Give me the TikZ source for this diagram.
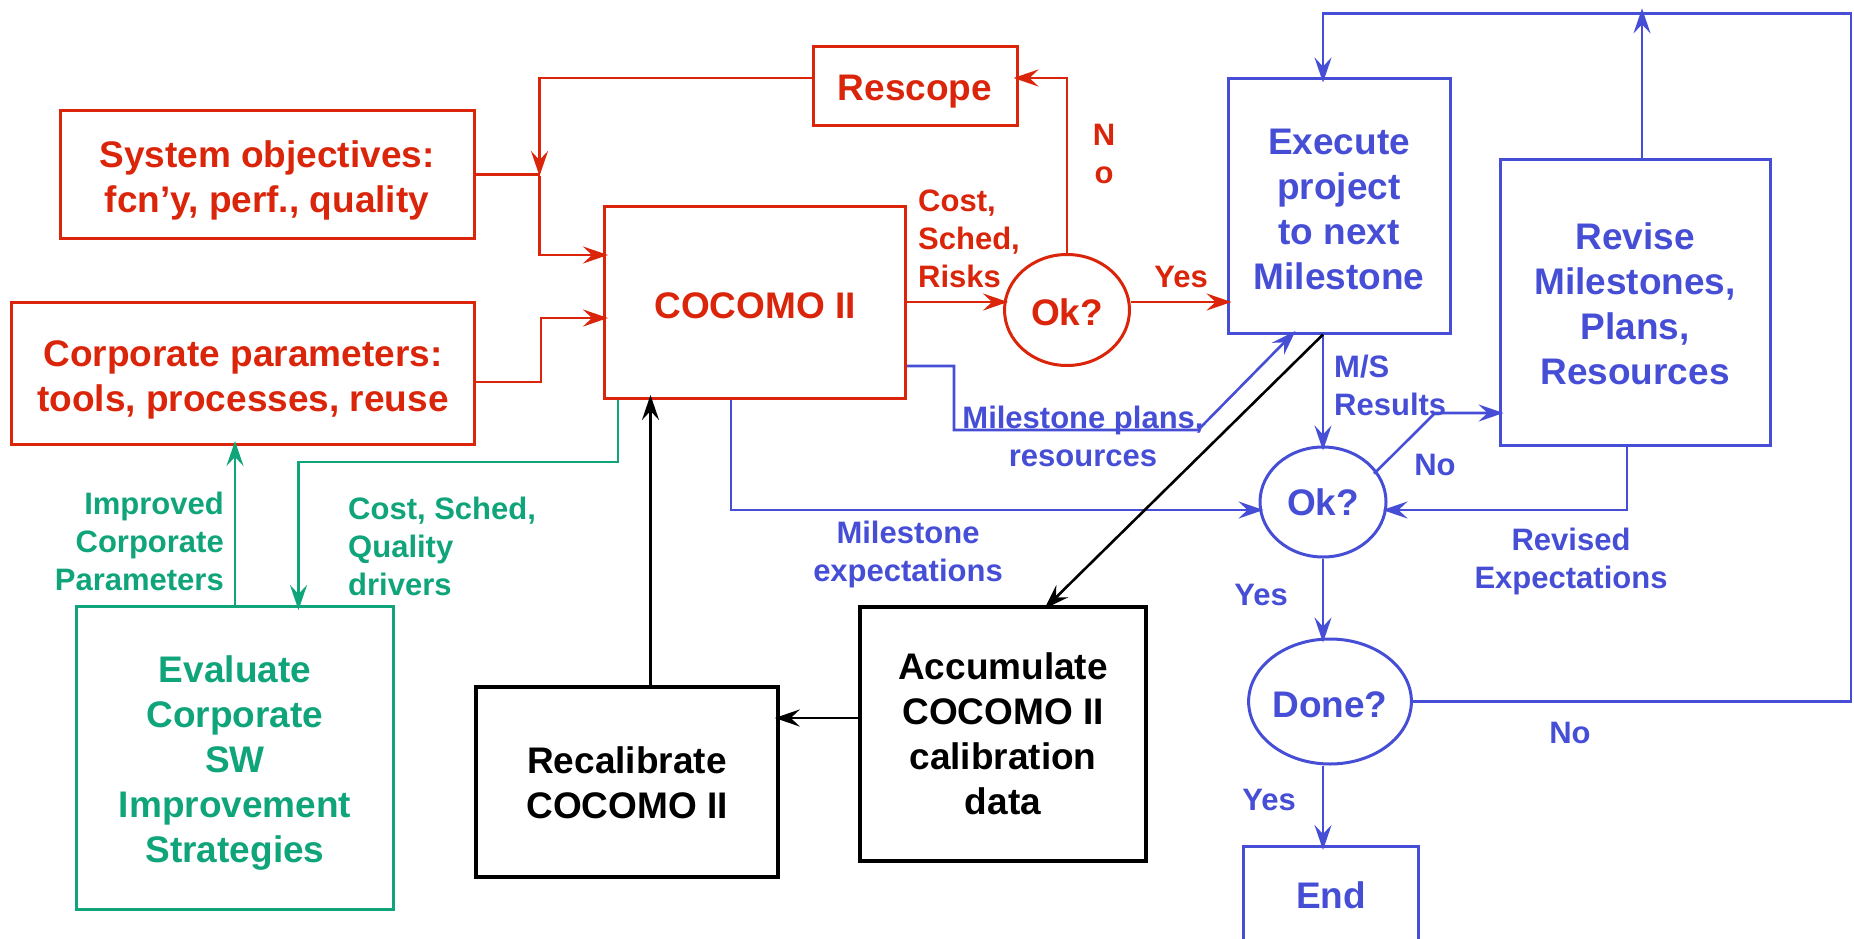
\documentclass[tikz,border=0pt]{standalone}
\usepackage{fontspec}
\setmainfont{Liberation Sans}
\usetikzlibrary{arrows.meta,shapes.geometric}
\definecolor{cred}{RGB}{218,37,10}
\definecolor{cblue}{RGB}{70,78,214}
\definecolor{cgreen}{RGB}{16,164,122}
\newcommand\boxfont{\fontsize{37}{45}\selectfont\bfseries}
\newcommand\tagfont{\fontsize{31}{38}\selectfont\bfseries}
% strut for the first line of a box text: a taller first line moves the block down
\newcommand\topstrut[1]{\rule{0pt}{#1pt}}
\tikzset{
  box/.style={draw, rectangle, line width=3pt, inner sep=0pt, align=center, font=\boxfont},
  oval/.style={draw, ellipse, line width=3pt, inner sep=0pt, font=\boxfont},
  lbl/.style={inner sep=0pt, font=\tagfont},
  tip/.style={-{Stealth[length=25pt,width=17pt,inset=9pt]}, shorten >=-5pt},
  conn/.style={line width=2.6pt},
}
\begin{document}
\begin{tikzpicture}[x=1pt,y=-1pt]
\useasboundingbox (0,0) rectangle (1854,939);

% ---------- nodes: estimation (red) ----------
\begin{scope}[every node/.append style={text=cred, draw=cred}]
\node[box, minimum width=414pt, minimum height=127pt] (sysobj) at (267,174.5) {\topstrut{38}System objectives:\\fcn’y, perf., quality};
\node[box, minimum width=463pt, minimum height=142pt] (corp) at (243,373.5) {\topstrut{39}Corporate parameters:\\tools, processes, reuse};
\node[box, minimum width=204pt, minimum height=79pt] (rescope) at (915,86.5) {\topstrut{36}Rescope};
\node[box, minimum width=301pt, minimum height=192pt] (cocomo) at (755,302.5) {\topstrut{31.5}COCOMO II};
\node[oval, minimum width=125pt, minimum height=111pt] (ok1) at (1067,310) {\topstrut{31}Ok?};
\end{scope}

% ---------- nodes: execution (blue) ----------
\begin{scope}[every node/.append style={text=cblue, draw=cblue}]
\node[box, minimum width=222pt, minimum height=254pt] (execute) at (1339,206) {\topstrut{33}Execute\\project\\to next\\Milestone};
\node[box, minimum width=270pt, minimum height=286pt] (revise) at (1635,302) {\topstrut{31}Revise\\Milestones,\\Plans,\\Resources};
\node[oval, minimum width=126pt, minimum height=110pt] (ok2) at (1323,502) {Ok?};
\node[oval, minimum width=141pt, minimum height=125pt] (done) at (1330,701.5) {\topstrut{32}Done?};
\node[box, minimum width=175pt, minimum height=97pt] (endbox) at (1331,895) {End};
\end{scope}

% ---------- nodes: calibration (black) and improvement (green) ----------
\node[box, line width=3.5pt, minimum width=286pt, minimum height=254pt] (accum) at (1003,734) {Accumulate\\COCOMO II\\calibration\\data};
\node[box, line width=3.5pt, minimum width=302pt, minimum height=190pt] (recal) at (627,782) {\topstrut{29}Recalibrate\\COCOMO II};
\node[box, draw=cgreen, text=cgreen, minimum width=317pt, minimum height=303pt] (eval) at (235,758) {\topstrut{36}Evaluate\\Corporate\\SW\\Improvement\\Strategies};

% ---------- red connectors and labels ----------
\begin{scope}[every node/.append style={text=cred}]
\node[lbl, align=left, anchor=west] (costlbl) at (918,239) {Cost,\\Sched,\\Risks};
\node[lbl, align=center] (nolbl1) at (1104,154) {N\\o};
\node[lbl] (yeslbl1) at (1181,277) {Yes};
\end{scope}
\coordinate (jn) at (539.5,176);
\begin{scope}[draw=cred, conn]
\draw[tip, shorten >=0pt] (rescope.west |- 0,78) -| (jn);
\draw (sysobj.east) -- (sysobj.east -| jn);
\draw[tip] (jn) |- (cocomo.west |- 0,255);
\draw[tip] (corp.east |- 0,382) -- ++(65,0) |- (cocomo.west |- 0,318);
\draw[tip] (cocomo.east |- 0,302) -- (ok1.west |- 0,302);
\draw[tip] (ok1.east |- 0,302) -- (execute.west |- 0,302);
\draw[tip] (ok1.north) |- (rescope.east |- 0,78);
\end{scope}

% ---------- blue connectors and labels ----------
\begin{scope}[every node/.append style={text=cblue}]
\node[lbl, align=center] (planslbl) at (1083,436) {Milestone plans,\\resources};
\node[lbl, align=center] (explbl) at (908,554) {Milestone\\expectations};
\node[lbl, align=left, anchor=west] (mslbl) at (1334,385) {M/S\\Results};
\node[lbl] (nolbl2) at (1435,465) {No};
\node[lbl, align=center] (revlbl) at (1571,561) {Revised\\Expectations};
\node[lbl] (yeslbl2) at (1261,595) {Yes};
\node[lbl] (yeslbl3) at (1269,800) {Yes};
\node[lbl] (nolbl3) at (1570,733) {No};
\end{scope}
\begin{scope}[draw=cblue, conn]
\draw[tip] (done.east) -- (1851,701.5) -- (1851,13.4) -| (execute.north -| ok2.center);
\draw[tip] (revise.north -| 1642,0) -- (1642,13.4);
\draw[tip] (execute.south -| ok2.center) -- (ok2.north);
\draw[tip, shorten <=-4pt] (ok2.30) -- (1435,413) -- (revise.west |- 0,413);
\draw[tip] (revise.south -| 1627,0) |- (ok2.east |- 0,510);
\draw[tip] (cocomo.south -| 731,0) |- (ok2.west |- 0,510);
\draw[tip] (cocomo.east |- 0,366) -- (954,366) |- (1198,430) -- (execute.south -| 1292,0);
\draw[tip] (ok2.south) -- (done.north -| ok2.south);
\draw[tip] (done.south -| ok2.south) -- (endbox.north -| ok2.south);
\end{scope}

% ---------- black connectors ----------
\begin{scope}[conn]
\draw[tip] (execute.south -| ok2.center) -- (accum.north -| 1048,0);
\draw[tip] (accum.west |- 0,718) -- (recal.east |- 0,718);
\draw[tip] (recal.north -| 650.5,0) -- (cocomo.south -| 650.5,0);
\end{scope}

% ---------- green connectors and labels ----------
\begin{scope}[every node/.append style={text=cgreen}]
\node[lbl, align=right, anchor=east] (implbl) at (224,541) {Improved\\Corporate\\Parameters};
\node[lbl, align=left, anchor=west] (drvlbl) at (348,546) {Cost, Sched,\\Quality\\drivers};
\end{scope}
\begin{scope}[draw=cgreen, conn]
\draw[tip] (cocomo.south -| 618,0) |- (298.5,462) -- (eval.north -| 298.5,0);
\draw[tip] (eval.north) -- (corp.south -| eval.north);
\end{scope}
\end{tikzpicture}
\end{document}
